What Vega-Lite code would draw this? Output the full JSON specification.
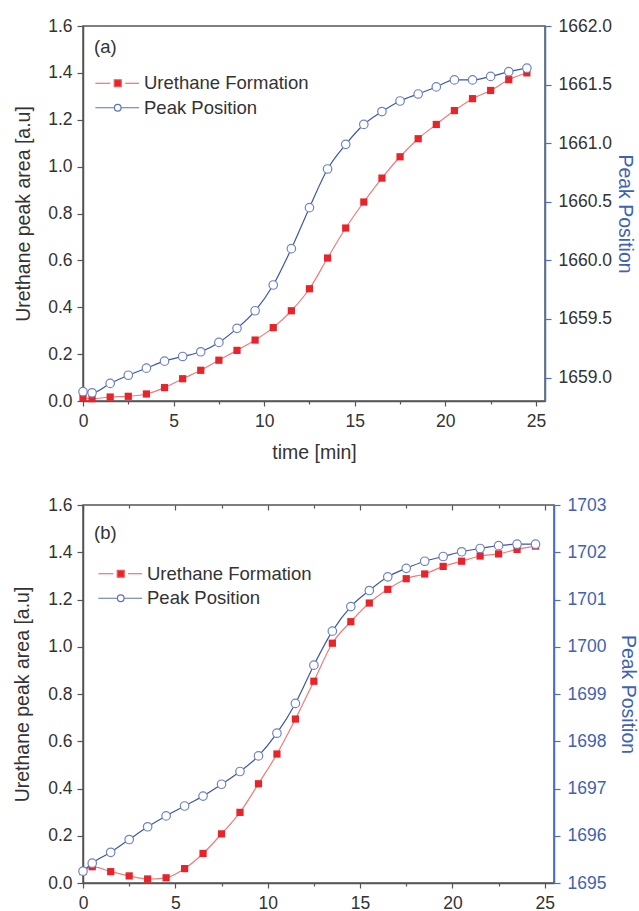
{
  "$schema": "https://vega.github.io/schema/vega-lite/v6.json",
  "padding": {"left": 11, "top": 16, "right": 0, "bottom": 0},
  "config": {
    "font": "Liberation Sans",
    "view": {"stroke": "#555", "strokeWidth": 1.5},
    "axis": {"labelFont": "Liberation Sans", "titleFont": "Liberation Sans", "labelFontSize": 17.5, "titleFontSize": 19.5, "labelColor": "#333", "titleColor": "#333", "titleFontWeight": "normal", "domainColor": "#555", "tickColor": "#555", "domainWidth": 1.5, "tickWidth": 1.2, "grid": false, "labelOverlap": false, "labelFlush": false},
    "legend": {"orient": "none", "title": null, "labelFont": "Liberation Sans", "labelFontSize": 18.5, "labelColor": "#333", "labelOffset": 17, "labelLimit": 0, "symbolSize": 49, "symbolStrokeWidth": 1.2, "symbolOpacity": 1},
    "concat": {"spacing": 32}
  },
  "datasets": {
    "a": [
      {"t": 0, "area": 0.014, "pos": 1658.88},
      {"t": 0.5, "area": 0.01, "pos": 1658.87},
      {"t": 1.5, "area": 0.017, "pos": 1658.95},
      {"t": 2.5, "area": 0.02, "pos": 1659.02},
      {"t": 3.5, "area": 0.03, "pos": 1659.08},
      {"t": 4.5, "area": 0.057, "pos": 1659.14},
      {"t": 5.5, "area": 0.095, "pos": 1659.18},
      {"t": 6.5, "area": 0.131, "pos": 1659.22},
      {"t": 7.5, "area": 0.174, "pos": 1659.30},
      {"t": 8.5, "area": 0.216, "pos": 1659.42},
      {"t": 9.5, "area": 0.26, "pos": 1659.57},
      {"t": 10.5, "area": 0.313, "pos": 1659.79},
      {"t": 11.5, "area": 0.385, "pos": 1660.10},
      {"t": 12.5, "area": 0.479, "pos": 1660.45},
      {"t": 13.5, "area": 0.61, "pos": 1660.78},
      {"t": 14.5, "area": 0.738, "pos": 1660.99},
      {"t": 15.5, "area": 0.849, "pos": 1661.16},
      {"t": 16.5, "area": 0.951, "pos": 1661.27},
      {"t": 17.5, "area": 1.042, "pos": 1661.36},
      {"t": 18.5, "area": 1.119, "pos": 1661.42},
      {"t": 19.5, "area": 1.18, "pos": 1661.48},
      {"t": 20.5, "area": 1.239, "pos": 1661.54},
      {"t": 21.5, "area": 1.29, "pos": 1661.54},
      {"t": 22.5, "area": 1.325, "pos": 1661.57},
      {"t": 23.5, "area": 1.371, "pos": 1661.61},
      {"t": 24.5, "area": 1.40, "pos": 1661.64}
    ],
    "b": [
      {"t": 0, "area": 0.048, "pos": 1695.25},
      {"t": 0.5, "area": 0.069, "pos": 1695.42},
      {"t": 1.5, "area": 0.048, "pos": 1695.65},
      {"t": 2.5, "area": 0.03, "pos": 1695.92},
      {"t": 3.5, "area": 0.017, "pos": 1696.19},
      {"t": 4.5, "area": 0.022, "pos": 1696.42},
      {"t": 5.5, "area": 0.061, "pos": 1696.63},
      {"t": 6.5, "area": 0.125, "pos": 1696.84},
      {"t": 7.5, "area": 0.208, "pos": 1697.09},
      {"t": 8.5, "area": 0.299, "pos": 1697.36},
      {"t": 9.5, "area": 0.42, "pos": 1697.69},
      {"t": 10.5, "area": 0.546, "pos": 1698.17},
      {"t": 11.5, "area": 0.694, "pos": 1698.80},
      {"t": 12.5, "area": 0.854, "pos": 1699.61},
      {"t": 13.5, "area": 1.015, "pos": 1700.33},
      {"t": 14.5, "area": 1.106, "pos": 1700.85},
      {"t": 15.5, "area": 1.185, "pos": 1701.19},
      {"t": 16.5, "area": 1.243, "pos": 1701.48},
      {"t": 17.5, "area": 1.288, "pos": 1701.66},
      {"t": 18.5, "area": 1.308, "pos": 1701.81},
      {"t": 19.5, "area": 1.34, "pos": 1701.91},
      {"t": 20.5, "area": 1.362, "pos": 1702.01},
      {"t": 21.5, "area": 1.384, "pos": 1702.08},
      {"t": 22.5, "area": 1.393, "pos": 1702.14},
      {"t": 23.5, "area": 1.412, "pos": 1702.17},
      {"t": 24.5, "area": 1.426, "pos": 1702.17}
    ]
  },
  "resolve": {"scale": {"shape": "independent", "fill": "independent", "stroke": "independent"}, "legend": {"shape": "independent", "fill": "independent", "stroke": "independent"}},
  "vconcat": [
    {
      "width": 462, "height": 375,
      "data": {"name": "a"},
      "title": {"text": "(a)", "anchor": "start", "frame": "group", "fontSize": 18.5, "fontWeight": "normal", "color": "#333", "offset": 0, "baseline": "middle", "dx": 11, "dy": 48},
      "layer": [
        {"layer": [
          {"mark": {"type": "line", "strokeWidth": 1.2, "interpolate": "monotone", "color": "#f07a7a"},
           "encoding": {
             "x": {"field": "t", "type": "quantitative", "scale": {"domain": [0, 25.5], "nice": false, "zero": false},
                   "axis": {"title": "time [min]", "values": [0,2.5,5,7.5,10,12.5,15,17.5,20,22.5,25], "labelExpr": "datum.value % 5 === 0 ? format(datum.value, 'd') : ''", "tickSize": {"condition": {"test": "datum.value % 5 !== 0", "value": 3}, "value": 5}, "labelPadding": 6, "titlePadding": 14}},
             "y": {"field": "area", "type": "quantitative", "scale": {"domain": [0, 1.6], "nice": false, "zero": false},
                   "axis": {"title": "Urethane peak area [a.u]", "orient": "left", "values": [0,0.1,0.2,0.3,0.4,0.5,0.6,0.7,0.8,0.9,1,1.1,1.2,1.3,1.4,1.5,1.6], "labelExpr": "round(datum.value*10) % 2 === 1 ? '' : format(datum.value, '.1f')", "tickSize": {"condition": {"test": "round(datum.value*10) % 2 === 1", "value": 3}, "value": 6}, "labelPadding": 5, "titlePadding": 14}}
           }},
          {"mark": {"type": "point", "shape": "square", "filled": true, "color": "#e8242a", "size": 52, "opacity": 1},
           "encoding": {
             "x": {"field": "t", "type": "quantitative"},
             "y": {"field": "area", "type": "quantitative"}
           }},
          {"mark": {"type": "point", "opacity": 0},
           "encoding": {
             "x": {"field": "t", "type": "quantitative"},
             "y": {"field": "area", "type": "quantitative"},
             "shape": {"datum": "Urethane Formation", "type": "nominal", "scale": {"domain": ["Urethane Formation", "Peak Position"], "range": ["M-6.4,0H-2.1M2.1,0H6.1M-1,-1H1V1H-1Z", "M-6.4,0H-0.95M0.95,0H6.1M0.95,0A0.95,0.95,0,1,1,-0.95,0A0.95,0.95,0,1,1,0.95,0Z"]}, "legend": {"legendX": 25.5, "legendY": 48, "rowPadding": 5.5}},
             "fill": {"datum": "Urethane Formation", "type": "nominal", "scale": {"domain": ["Urethane Formation", "Peak Position"], "range": ["#e8242a", "white"]}, "legend": {"legendX": 25.5, "legendY": 48, "rowPadding": 5.5}},
             "stroke": {"datum": "Urethane Formation", "type": "nominal", "scale": {"domain": ["Urethane Formation", "Peak Position"], "range": ["#ee5a5a", "#5d72bb"]}, "legend": {"legendX": 25.5, "legendY": 48, "rowPadding": 5.5}}
           }}
        ]},
        {"layer": [
          {"mark": {"type": "line", "strokeWidth": 1.2, "interpolate": "monotone", "color": "#3d56a6"},
           "encoding": {
             "x": {"field": "t", "type": "quantitative"},
             "y": {"field": "pos", "type": "quantitative", "scale": {"domain": [1658.8, 1662.0], "nice": false, "zero": false},
                   "axis": {"title": "Peak Position", "orient": "right", "titleColor": "#3e62b5", "domainColor": "#4a6fc0", "tickColor": "#4a6fc0", "values": [1659,1659.25,1659.5,1659.75,1660,1660.25,1660.5,1660.75,1661,1661.25,1661.5,1661.75,1662], "labelExpr": "round(datum.value*4) % 2 === 1 ? '' : format(datum.value, '.1f')", "tickSize": {"condition": {"test": "round(datum.value*4) % 2 === 1", "value": 3}, "value": 6}, "labelPadding": 7, "titlePadding": 3}}
           }},
          {"mark": {"type": "point", "shape": "circle", "filled": true, "fill": "white", "stroke": "#6f83c4", "strokeWidth": 1.2, "size": 72, "opacity": 1},
           "encoding": {
             "x": {"field": "t", "type": "quantitative"},
             "y": {"field": "pos", "type": "quantitative"}
           }}
        ]}
      ],
      "resolve": {"scale": {"y": "independent"}, "axis": {"y": "independent"}}
    },
    {
      "width": 471, "height": 378,
      "data": {"name": "b"},
      "title": {"text": "(b)", "anchor": "start", "frame": "group", "fontSize": 18.5, "fontWeight": "normal", "color": "#333", "offset": 0, "baseline": "middle", "dx": 11, "dy": 55},
      "layer": [
        {"layer": [
          {"mark": {"type": "line", "strokeWidth": 1.2, "interpolate": "monotone", "color": "#f07a7a"},
           "encoding": {
             "x": {"field": "t", "type": "quantitative", "scale": {"domain": [0, 25.5], "nice": false, "zero": false},
                   "axis": {"title": null, "values": [0,2.5,5,7.5,10,12.5,15,17.5,20,22.5,25], "labelExpr": "datum.value % 5 === 0 ? format(datum.value, 'd') : ''", "tickSize": {"condition": {"test": "datum.value % 5 !== 0", "value": 3}, "value": 5}, "labelPadding": 6}},
             "y": {"field": "area", "type": "quantitative", "scale": {"domain": [0, 1.6], "nice": false, "zero": false},
                   "axis": {"title": "Urethane peak area [a.u]", "orient": "left", "values": [0,0.1,0.2,0.3,0.4,0.5,0.6,0.7,0.8,0.9,1,1.1,1.2,1.3,1.4,1.5,1.6], "labelExpr": "round(datum.value*10) % 2 === 1 ? '' : format(datum.value, '.1f')", "tickSize": {"condition": {"test": "round(datum.value*10) % 2 === 1", "value": 3}, "value": 6}, "labelPadding": 5, "titlePadding": 15}}
           }},
          {"mark": {"type": "point", "shape": "square", "filled": true, "color": "#e8242a", "size": 52, "opacity": 1},
           "encoding": {
             "x": {"field": "t", "type": "quantitative"},
             "y": {"field": "area", "type": "quantitative"}
           }},
          {"mark": {"type": "point", "opacity": 0},
           "encoding": {
             "x": {"field": "t", "type": "quantitative"},
             "y": {"field": "area", "type": "quantitative"},
             "shape": {"datum": "Urethane Formation", "type": "nominal", "scale": {"domain": ["Urethane Formation", "Peak Position"], "range": ["M-6.4,0H-2.1M2.1,0H6.1M-1,-1H1V1H-1Z", "M-6.4,0H-0.95M0.95,0H6.1M0.95,0A0.95,0.95,0,1,1,-0.95,0A0.95,0.95,0,1,1,0.95,0Z"]}, "legend": {"legendX": 28.5, "legendY": 59.5, "rowPadding": 5.5}},
             "fill": {"datum": "Urethane Formation", "type": "nominal", "scale": {"domain": ["Urethane Formation", "Peak Position"], "range": ["#e8242a", "white"]}, "legend": {"legendX": 28.5, "legendY": 59.5, "rowPadding": 5.5}},
             "stroke": {"datum": "Urethane Formation", "type": "nominal", "scale": {"domain": ["Urethane Formation", "Peak Position"], "range": ["#ee5a5a", "#5d72bb"]}, "legend": {"legendX": 28.5, "legendY": 59.5, "rowPadding": 5.5}}
           }}
        ]},
        {"layer": [
          {"mark": {"type": "line", "strokeWidth": 1.2, "interpolate": "monotone", "color": "#3d56a6"},
           "encoding": {
             "x": {"field": "t", "type": "quantitative", "axis": {"title": null, "orient": "top", "labels": false, "domain": false, "values": [0,2.5,5,7.5,10,12.5,15,17.5,20,22.5,25], "tickSize": {"condition": {"test": "datum.value % 5 !== 0", "value": -3}, "value": -5}}},
             "y": {"field": "pos", "type": "quantitative", "scale": {"domain": [1695, 1703], "nice": false, "zero": false},
                   "axis": {"title": "Peak Position", "orient": "right", "titleColor": "#3e62b5", "labelColor": "#3e62b5", "domainColor": "#4a6fc0", "tickColor": "#4a6fc0", "values": [1695,1695.5,1696,1696.5,1697,1697.5,1698,1698.5,1699,1699.5,1700,1700.5,1701,1701.5,1702,1702.5,1703], "labelExpr": "round(datum.value*2) % 2 === 1 ? '' : format(datum.value, 'd')", "tickSize": {"condition": {"test": "round(datum.value*2) % 2 === 1", "value": 3}, "value": 6}, "labelPadding": 7, "titlePadding": 12}}
           }},
          {"mark": {"type": "point", "shape": "circle", "filled": true, "fill": "white", "stroke": "#6f83c4", "strokeWidth": 1.2, "size": 72, "opacity": 1},
           "encoding": {
             "x": {"field": "t", "type": "quantitative", "axis": {"title": null, "orient": "top", "labels": false, "domain": false, "values": [0,2.5,5,7.5,10,12.5,15,17.5,20,22.5,25], "tickSize": {"condition": {"test": "datum.value % 5 !== 0", "value": -3}, "value": -5}}},
             "y": {"field": "pos", "type": "quantitative"}
           }}
        ]}
      ],
      "resolve": {"scale": {"y": "independent"}, "axis": {"y": "independent", "x": "independent"}}
    }
  ]
}
